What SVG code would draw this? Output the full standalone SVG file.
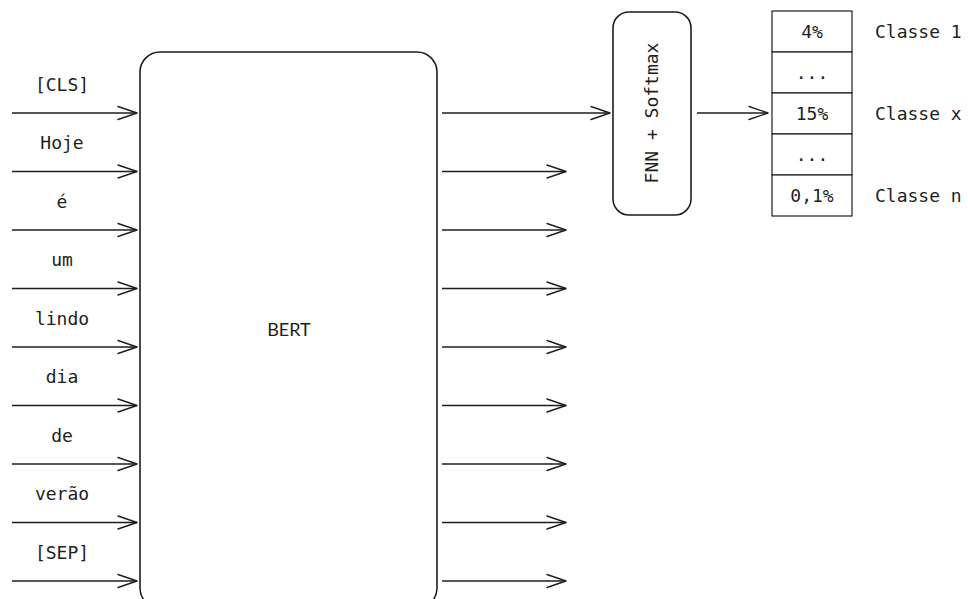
<svg xmlns="http://www.w3.org/2000/svg" width="968" height="599" viewBox="0 0 968 599">
  <defs>
    <marker id="arrow" markerWidth="22" markerHeight="16" refX="20" refY="8" orient="auto" markerUnits="userSpaceOnUse">
      <path d="M1,1.5 L20,8 L1,14.5" fill="none" stroke="#1e1e1e" stroke-width="1.4" stroke-linecap="round" stroke-linejoin="round"/>
    </marker>
    <style>
      .box { fill: #ffffff; stroke: #1e1e1e; stroke-width: 1.6; }
      .cell { fill: #ffffff; stroke: #1e1e1e; stroke-width: 1.2; }
      .edge { fill: none; stroke: #1e1e1e; stroke-width: 1.4; marker-end: url(#arrow); }
      .mono { font-family: "DejaVu Sans Mono", "Liberation Mono", monospace; font-size: 18px; fill: #1e1e1e; }
      .sans { font-family: "Lato", "Liberation Sans", sans-serif; font-size: 18px; fill: #1e1e1e; }
      .mid { text-anchor: middle; }
    </style>
  </defs>
  <rect width="968" height="599" fill="#ffffff"/>

  <!-- BERT encoder -->
  <g id="bert">
    <rect class="box" x="140" y="52" width="297" height="556" rx="20"/>
    <text class="sans mid" x="289" y="336">BERT</text>
  </g>

  <!-- input tokens -->
  <g id="tokens">
    <text class="mono mid" x="62" y="91">[CLS]</text>
    <text class="mono mid" x="62" y="149">Hoje</text>
    <text class="mono mid" x="62" y="208">é</text>
    <text class="mono mid" x="62" y="266">um</text>
    <text class="mono mid" x="62" y="325">lindo</text>
    <text class="mono mid" x="62" y="383">dia</text>
    <text class="mono mid" x="62" y="442">de</text>
    <text class="mono mid" x="62" y="500">verão</text>
    <text class="mono mid" x="62" y="559">[SEP]</text>
  </g>

  <!-- classification head -->
  <g id="fnn">
    <rect class="box" x="613" y="12" width="78" height="203" rx="16"/>
    <text class="mono mid" transform="translate(658 113) rotate(-90)">FNN + Softmax</text>
  </g>

  <!-- class probabilities -->
  <g id="probs">
    <rect class="cell" x="772" y="11" width="80" height="41"/>
    <rect class="cell" x="772" y="52" width="80" height="41"/>
    <rect class="cell" x="772" y="93" width="80" height="41"/>
    <rect class="cell" x="772" y="134" width="80" height="41"/>
    <rect class="cell" x="772" y="175" width="80" height="41"/>
    <text class="mono mid" x="812" y="38">4%</text>
    <text class="mono mid" x="812" y="79">...</text>
    <text class="mono mid" x="812" y="120">15%</text>
    <text class="mono mid" x="812" y="161">...</text>
    <text class="mono mid" x="812" y="202">0,1%</text>
  </g>

  <g id="labels">
    <text class="mono" x="875" y="38">Classe 1</text>
    <text class="mono" x="875" y="120">Classe x</text>
    <text class="mono" x="875" y="202">Classe n</text>
  </g>

  <!-- connectors -->
  <g id="connectors">
    <line class="edge" x1="12" y1="113" x2="137" y2="113"/>
    <line class="edge" x1="12" y1="171.5" x2="137" y2="171.5"/>
    <line class="edge" x1="12" y1="230" x2="137" y2="230"/>
    <line class="edge" x1="12" y1="288.5" x2="137" y2="288.5"/>
    <line class="edge" x1="12" y1="347" x2="137" y2="347"/>
    <line class="edge" x1="12" y1="405.5" x2="137" y2="405.5"/>
    <line class="edge" x1="12" y1="464" x2="137" y2="464"/>
    <line class="edge" x1="12" y1="522.5" x2="137" y2="522.5"/>
    <line class="edge" x1="12" y1="581" x2="137" y2="581"/>

    <line class="edge" x1="442" y1="113" x2="610" y2="113"/>
    <line class="edge" x1="442" y1="171.5" x2="566" y2="171.5"/>
    <line class="edge" x1="442" y1="230" x2="566" y2="230"/>
    <line class="edge" x1="442" y1="288.5" x2="566" y2="288.5"/>
    <line class="edge" x1="442" y1="347" x2="566" y2="347"/>
    <line class="edge" x1="442" y1="405.5" x2="566" y2="405.5"/>
    <line class="edge" x1="442" y1="464" x2="566" y2="464"/>
    <line class="edge" x1="442" y1="522.5" x2="566" y2="522.5"/>
    <line class="edge" x1="442" y1="581" x2="566" y2="581"/>

    <line class="edge" x1="697" y1="113" x2="768" y2="113"/>
  </g>
</svg>
